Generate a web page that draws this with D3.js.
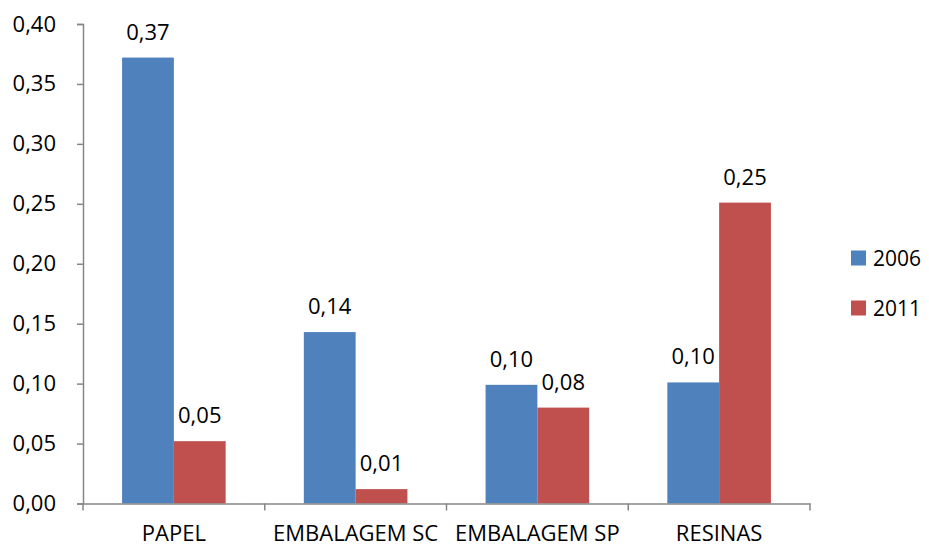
<!DOCTYPE html>
<html lang="en">
<head>
    <meta charset="UTF-8">
    <title>Bar chart 2006 / 2011</title>
    <script src="https://d3js.org/d3.v7.min.js"></script>
    <style>
        body { margin: 0; background: #fff; }
        text { font-family: "Open Sans", sans-serif; fill: #000; }
    </style>
</head>
<body>
<div id="chart"></div>
<script>
    // values
    var categories = ["PAPEL", "EMBALAGEM SC", "EMBALAGEM SP", "RESINAS"];
    var series = ["2006", "2011"];
    var values2006 = [0.372, 0.143, 0.099, 0.101];
    var values2011 = [0.052, 0.012, 0.080, 0.251];
    var yTicks = [0, 0.05, 0.10, 0.15, 0.20, 0.25, 0.30, 0.35, 0.40];
    var colors = ["#4F81BD", "#C0504D"];

    var fmt = function(v) { return d3.format(".2f")(v).replace(".", ","); };

    var svg = d3.select("#chart")
        .append("svg")
        .attr("width", 929)
        .attr("height", 549);

    var margin = { top: 24, left: 83, right: 119, bottom: 45 };
    var width = 929 - margin.left - margin.right;
    var height = 549 - margin.top - margin.bottom - 0.5;

    var g = svg.append("g")
        .attr("transform", "translate(" + margin.left + "," + margin.top + ")");

    var x0 = d3.scaleBand().domain(categories).range([0, width]).paddingInner(0.43).paddingOuter(0.215);
    var x1 = d3.scaleBand().domain(series).range([0, x0.bandwidth()]);
    var y = d3.scaleLinear().domain([0, 0.40]).range([height, 0]);

    var data = categories.map(function(c, i) {
        return { cat: c, vals: [values2006[i], values2011[i]] };
    });

    var groups = g.selectAll(".grp")
        .data(data)
        .enter()
        .append("g")
        .attr("transform", function(d) { return "translate(" + x0(d.cat) + ",0)"; });

    groups.selectAll("rect")
        .data(function(d) { return d.vals.map(function(v, j) { return { s: series[j], v: v, j: j }; }); })
        .enter()
        .append("rect")
        .attr("x", function(d) { return x1(d.s); })
        .attr("y", function(d) { return y(d.v); })
        .attr("width", x1.bandwidth())
        .attr("height", function(d) { return height - y(d.v); })
        .attr("fill", function(d) { return colors[d.j]; });

    groups.selectAll(".lbl")
        .data(function(d) { return d.vals.map(function(v, j) { return { s: series[j], v: v }; }); })
        .enter()
        .append("text")
        .attr("class", "lbl")
        .attr("x", function(d) { return x1(d.s) + x1.bandwidth() / 2; })
        .attr("y", function(d) { return y(d.v) - 18; })
        .attr("text-anchor", "middle")
        .style("font-size", "22px")
        .text(function(d) { return fmt(d.v); });

    // y axis
    var yAxis = g.append("g")
        .call(d3.axisLeft(y).tickValues(yTicks).tickFormat(fmt).tickSize(6).tickPadding(21));
    yAxis.selectAll("text").style("font-size", "22px");

    // x axis with ticks between categories
    var xAxis = g.append("g")
        .attr("transform", "translate(0," + height + ")")
        .call(d3.axisBottom(x0).tickSize(0).tickPadding(22));
    xAxis.selectAll("text").style("font-size", "22px");
    var step = width / categories.length;
    xAxis.selectAll(".sep")
        .data(d3.range(categories.length + 1))
        .enter()
        .append("line")
        .attr("x1", function(d) { return d * step; })
        .attr("x2", function(d) { return d * step; })
        .attr("y1", 0)
        .attr("y2", 7)
        .attr("stroke", "#868686")
        .attr("stroke-width", 1.5);

    svg.selectAll(".domain").attr("stroke", "#868686").attr("stroke-width", 1.5);
    svg.selectAll(".tick line").attr("stroke", "#868686").attr("stroke-width", 1.5);

    // legend
    var legend = svg.append("g").attr("transform", "translate(851,0)");
    series.forEach(function(s, i) {
        var cy = 258 + i * 50;
        legend.append("rect")
            .attr("x", 0)
            .attr("y", cy - 7.5)
            .attr("width", 15)
            .attr("height", 15)
            .attr("fill", colors[i]);
        legend.append("text")
            .attr("x", 22)
            .attr("y", cy + 8)
            .style("font-size", "21px")
            .text(s);
    });
</script>
</body>
</html>
